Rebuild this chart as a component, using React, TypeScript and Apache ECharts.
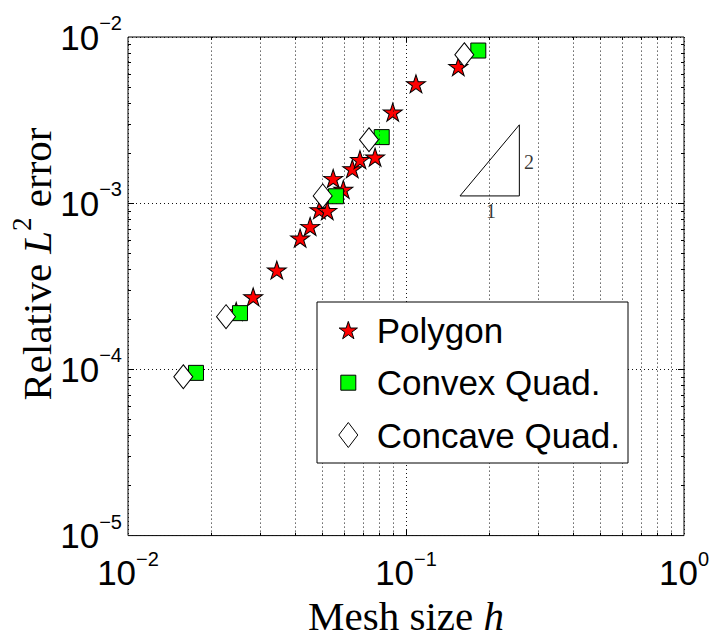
import React, { useEffect, useRef } from "react";
import * as echarts from "echarts";

// ---- data (mesh size h, relative L2 error) ----
const polygonH = [0.0245, 0.0282, 0.0343, 0.0416, 0.0452, 0.0488, 0.0521, 0.0547, 0.0595, 0.0641, 0.0683, 0.0774, 0.0896, 0.1086, 0.1542];
const polygonErr = [2.23e-4, 2.73e-4, 3.96e-4, 6.16e-4, 7.24e-4, 9.13e-4, 9.01e-4, 1.408e-3, 1.21e-3, 1.611e-3, 1.827e-3, 1.892e-3, 3.53e-3, 5.23e-3, 6.63e-3];
const convexH = [0.01756, 0.02528, 0.05598, 0.08177, 0.182];
const convexErr = [9.53e-5, 2.18e-4, 1.101e-3, 2.498e-3, 8.29e-3];
const concaveH = [0.01581, 0.02252, 0.05016, 0.0736, 0.1621];
const concaveErr = [9.03e-5, 2.076e-4, 1.106e-3, 2.409e-3, 7.82e-3];

// slope triangle (1 : 2) and its labels
const slopeH = [0.1564, 0.2557, 0.2557, 0.1564];
const slopeErr = [1.106e-3, 1.106e-3, 2.962e-3, 1.106e-3];
const slopeLabelH = [0.277, 0.2022];
const slopeLabelErr = [1.762e-3, 8.92e-4];
const slopeLabelText = ["2", "1"];

const legendNames = ["Polygon", "Convex Quad.", "Concave Quad."];

const xMin = 0.01, xMax = 1, yMin = 1e-5, yMax = 1e-2;
const xMajor = [0.1];
const yMajor = [1e-4, 1e-3];

const STAR_PATH =
  "path://M50 0L61.23 34.55L97.55 34.55L68.17 55.9L79.39 90.45L50 69.1L20.61 90.45L31.83 55.9L2.45 34.55L38.77 34.55Z";

const SANS = "'Liberation Sans', Arial, Helvetica, sans-serif";
const SERIF = "'Liberation Serif', 'Times New Roman', serif";

function pairs(xs: number[], ys: number[]) {
  return xs.map((x, i) => [x, ys[i]]);
}

function minorValues(lo: number, hi: number) {
  const out: number[] = [];
  for (let e = Math.round(Math.log10(lo)); e < Math.round(Math.log10(hi)); e++) {
    for (let k = 2; k <= 9; k++) out.push(k * Math.pow(10, e));
  }
  return out;
}

function starPoints(cx: number, cy: number, R: number) {
  const pts: number[][] = [];
  for (let k = 0; k < 10; k++) {
    const r = k % 2 === 0 ? R : R * 0.382;
    const a = (-90 + k * 36) * Math.PI / 180;
    pts.push([cx + r * Math.cos(a), cy + r * Math.sin(a)]);
  }
  return pts;
}

const supLabel = (v: number) => {
  const e = Math.round(Math.log10(v));
  const s = e < 0 ? "\u2212" + String(-e) : String(e);
  return "{b|10}{s|" + s + "}";
};

const labelRich = {
  b: { fontFamily: SANS, fontSize: 35, lineHeight: 48, color: "#000" },
  s: { fontFamily: SANS, fontSize: 20, lineHeight: 20, verticalAlign: "top", color: "#000" },
};

export default function App() {
  const ref = useRef<HTMLDivElement>(null);

  useEffect(() => {
    if (!ref.current) return;
    const chart = echarts.init(ref.current, undefined, { renderer: "svg" });

    const PX_X = 278; // px per decade (x)
    const PX_Y = 171.5; // px per decade (y)
    const xMinor = minorValues(xMin, xMax);
    const yMinor = minorValues(yMin, yMax);

    const gridStyle = { color: "#111", width: 1, type: [1, 3] as any };
    const tickStyle = { color: "#000", width: 1, type: "solid" as any };

    const gridLines: any[] = [
      ...xMinor.map((v) => ({ xAxis: v })),
      ...yMinor.map((v) => ({ yAxis: v })),
    ];

    const ticks: any[] = [];
    const addX = (v: number, len: number) => {
      const f = Math.pow(10, len / PX_Y);
      ticks.push([{ coord: [v, yMin], lineStyle: tickStyle }, { coord: [v, yMin * f] }]);
      ticks.push([{ coord: [v, yMax], lineStyle: tickStyle }, { coord: [v, yMax / f] }]);
    };
    const addY = (v: number, len: number) => {
      const f = Math.pow(10, len / PX_X);
      ticks.push([{ coord: [xMin, v], lineStyle: tickStyle }, { coord: [xMin * f, v] }]);
      ticks.push([{ coord: [xMax, v], lineStyle: tickStyle }, { coord: [xMax / f, v] }]);
    };
    xMajor.forEach((v) => addX(v, 6));
    xMinor.forEach((v) => addX(v, 3));
    yMajor.forEach((v) => addY(v, 6));
    yMinor.forEach((v) => addY(v, 3));

    const lx = 348.3;
    const legendRows = [330, 382.7, 435];

    const option: any = {
      animation: false,
      backgroundColor: "#fff",
      textStyle: { fontFamily: SANS },
      grid: {
        left: 128,
        right: 30,
        top: 37,
        bottom: 90,
        show: true,
        borderColor: "#000",
        borderWidth: 1,
        backgroundColor: "transparent",
      },
      xAxis: {
        type: "log",
        logBase: 10,
        min: xMin,
        max: xMax,
        splitNumber: 2,
        axisLine: { show: false },
        axisTick: { show: false },
        splitLine: { show: true, lineStyle: gridStyle },
        axisLabel: { formatter: supLabel, rich: labelRich, margin: 13 },
        name: "{r|Mesh size }{i|h}",
        nameLocation: "middle",
        nameGap: 50,
        nameTextStyle: {
          rich: {
            r: { fontFamily: SERIF, fontSize: 41, lineHeight: 41, color: "#000" },
            i: { fontFamily: SERIF, fontSize: 41, lineHeight: 41, fontStyle: "italic", color: "#000" },
          },
        },
      },
      yAxis: {
        type: "log",
        logBase: 10,
        min: yMin,
        max: yMax,
        splitNumber: 3,
        axisLine: { show: false },
        axisTick: { show: false },
        splitLine: { show: true, lineStyle: gridStyle },
        axisLabel: { formatter: supLabel, rich: labelRich, margin: 6 },
      },
      graphic: [
        {
          type: "text",
          x: 36.5,
          y: 264,
          rotation: Math.PI / 2,
          style: {
            text: "{a|Relative }{b|L}{c|2}{a| error}",
            align: "center",
            verticalAlign: "middle",
            textAlign: "center",
            textVerticalAlign: "middle",
            rich: {
              a: { fontFamily: SERIF, fontSize: 41, lineHeight: 56, fill: "#000", color: "#000" },
              b: { fontFamily: SERIF, fontSize: 41, lineHeight: 56, fontStyle: "italic", fill: "#000", color: "#000" },
              c: { fontFamily: SERIF, fontSize: 27, lineHeight: 27, verticalAlign: "top", fill: "#000", color: "#000" },
            },
          },
          z: 50,
        },
        {
          type: "rect",
          shape: { x: 317, y: 302, width: 311, height: 161 },
          style: { fill: "#fff", stroke: "#000", lineWidth: 1 },
          z: 100,
        },
        {
          type: "polygon",
          shape: { points: starPoints(lx, legendRows[0] + 1, 9.6) },
          style: { fill: "#ff0000", stroke: "#000", lineWidth: 1 },
          z: 101,
        },
        {
          type: "rect",
          shape: { x: lx - 7.5, y: legendRows[1] - 7.5, width: 15, height: 15 },
          style: { fill: "#00ff00", stroke: "#000", lineWidth: 1 },
          z: 101,
        },
        {
          type: "polygon",
          shape: {
            points: [
              [lx, legendRows[2] - 12.5],
              [lx + 9.5, legendRows[2]],
              [lx, legendRows[2] + 12.5],
              [lx - 9.5, legendRows[2]],
            ],
          },
          style: { fill: "#fff", stroke: "#000", lineWidth: 1 },
          z: 101,
        },
        ...legendNames.map((name, i) => ({
          type: "text",
          x: 376.7,
          y: legendRows[i],
          style: {
            text: name,
            fontFamily: SANS,
            fontSize: 35,
            fill: "#000",
            align: "left",
            verticalAlign: "middle",
            textAlign: "left",
            textVerticalAlign: "middle",
          },
          z: 101,
        })),
      ],
      series: [
        {
          name: "slope",
          type: "line",
          data: pairs(slopeH, slopeErr),
          showSymbol: false,
          symbol: "none",
          lineStyle: { color: "#000", width: 1 },
          silent: true,
          z: 1,
          markLine: {
            silent: true,
            symbol: ["none", "none"],
            label: { show: false },
            emphasis: { disabled: true },
            lineStyle: gridStyle,
            data: [...gridLines, ...ticks],
          },
        },
        {
          name: "slopeLabels",
          type: "scatter",
          data: pairs(slopeLabelH, slopeLabelErr),
          symbolSize: 0,
          silent: true,
          z: 2,
          label: {
            show: true,
            position: "inside",
            formatter: (p: any) => slopeLabelText[p.dataIndex],
            fontFamily: SERIF,
            fontSize: 20,
            color: "#000",
          },
        },
        {
          name: legendNames[0],
          type: "scatter",
          data: pairs(polygonH, polygonErr),
          symbol: STAR_PATH,
          symbolSize: [19, 18],
          itemStyle: { color: "#ff0000", borderColor: "#000", borderWidth: 1, opacity: 1 },
          z: 3,
        },
        {
          name: legendNames[1],
          type: "scatter",
          data: pairs(convexH, convexErr),
          symbol: "rect",
          symbolSize: 15,
          itemStyle: { color: "#00ff00", borderColor: "#000", borderWidth: 1, opacity: 1 },
          z: 4,
        },
        {
          name: legendNames[2],
          type: "scatter",
          data: pairs(concaveH, concaveErr),
          symbol: "diamond",
          symbolSize: [19, 24],
          itemStyle: { color: "#ffffff", borderColor: "#000", borderWidth: 1, opacity: 1 },
          z: 5,
        },
      ],
    };

    chart.setOption(option);
    return () => chart.dispose();
  }, []);

  return (
    <div
      ref={ref}
      style={{ position: "fixed", left: 0, top: 0, width: 714, height: 641, background: "#fff" }}
    />
  );
}
